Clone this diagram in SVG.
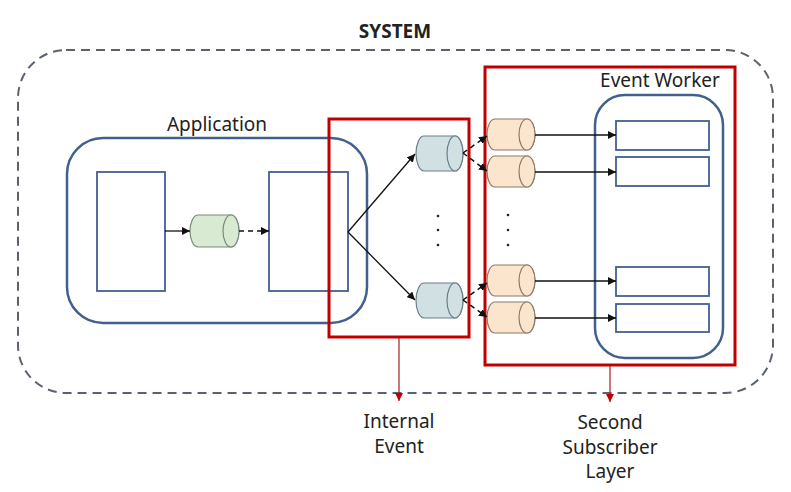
<svg xmlns="http://www.w3.org/2000/svg" width="791" height="492" viewBox="0 0 791 492">
<defs>
<style>
.t{font-family:"Noto Sans","Open Sans","Liberation Sans",sans-serif;font-size:19px;fill:#222;text-anchor:middle}
.blue{fill:none;stroke:#41608f;stroke-width:2.5}
.box{fill:#fff;stroke:#41608f;stroke-width:1.8}
.red{fill:none;stroke:#c00000;stroke-width:3}
.cg{fill:#d9ead3;stroke:#7a8a7a;stroke-width:1.2}
.cb{fill:#d0e0e3;stroke:#6a7f88;stroke-width:1.2}
.co{fill:#fce5cd;stroke:#8a7a6a;stroke-width:1.2}
.a{fill:none;stroke:#111;stroke-width:1.3}
.d{fill:none;stroke:#111;stroke-width:1.5;stroke-dasharray:5 4}
.r{fill:none;stroke:#a02020;stroke-width:1.2}
</style>
<marker id="ah" viewBox="0 0 10 10" refX="10" refY="5" markerWidth="8" markerHeight="8" markerUnits="userSpaceOnUse" orient="auto"><path d="M0,0 L10,5 L0,10 Z" fill="#111"/></marker>
<marker id="rh" viewBox="0 0 10 10" refX="10" refY="5" markerWidth="8" markerHeight="8" markerUnits="userSpaceOnUse" orient="auto"><path d="M0,0 L10,5 L0,10 Z" fill="#c00000"/></marker>
</defs>
<rect width="791" height="492" fill="#fff"/>
<g id="system">
<rect x="18" y="50" width="755" height="343" rx="48" fill="none" stroke="#5a6170" stroke-width="2" stroke-dasharray="9 6"/>
<text x="395" y="38" class="t" style="font-weight:bold;font-size:19px">SYSTEM</text>
</g>
<g id="application">
<rect x="67" y="138" width="300" height="185" rx="36" class="blue"/>
<text x="217" y="131" class="t">Application</text>
<rect x="97" y="172" width="68" height="119" class="box"/>
<rect x="269" y="172" width="79" height="119" class="box"/>
<path class="cg" d="M198,215 L231,215 A8,16 0 0 1 231,247 L198,247 A8,16 0 0 1 198,215 Z"/>
<ellipse class="cg" cx="231" cy="231" rx="8" ry="16"/>
</g>
<g id="internal-event">
<rect x="329" y="119" width="140" height="218" class="red"/>
<path class="cb" d="M424,136 L455,136 A8,17.5 0 0 1 455,171 L424,171 A8,17.5 0 0 1 424,136 Z"/>
<ellipse class="cb" cx="455" cy="153.5" rx="8" ry="17.5"/>
<path class="cb" d="M424,283 L455,283 A8,17.5 0 0 1 455,318 L424,318 A8,17.5 0 0 1 424,283 Z"/>
<ellipse class="cb" cx="455" cy="300.5" rx="8" ry="17.5"/>
<g fill="#222"><circle cx="438" cy="216" r="1.3"/><circle cx="438" cy="230" r="1.3"/><circle cx="438" cy="245" r="1.3"/></g>
</g>
<g id="second-subscriber-layer">
<rect x="485" y="67" width="250" height="298" class="red"/>
<path class="co" d="M495,119 L527,119 A8,15.5 0 0 1 527,150 L495,150 A8,15.5 0 0 1 495,119 Z"/>
<ellipse class="co" cx="527" cy="134.5" rx="8" ry="15.5"/>
<path class="co" d="M495,156 L527,156 A8,15.5 0 0 1 527,187 L495,187 A8,15.5 0 0 1 495,156 Z"/>
<ellipse class="co" cx="527" cy="171.5" rx="8" ry="15.5"/>
<path class="co" d="M495,265 L527,265 A8,15.5 0 0 1 527,296 L495,296 A8,15.5 0 0 1 495,265 Z"/>
<ellipse class="co" cx="527" cy="280.5" rx="8" ry="15.5"/>
<path class="co" d="M495,302 L527,302 A8,15.5 0 0 1 527,333 L495,333 A8,15.5 0 0 1 495,302 Z"/>
<ellipse class="co" cx="527" cy="317.5" rx="8" ry="15.5"/>
<g fill="#222"><circle cx="508" cy="215" r="1.3"/><circle cx="508" cy="230" r="1.3"/><circle cx="508" cy="245" r="1.3"/></g>
</g>
<g id="event-worker">
<rect x="595" y="95" width="128" height="263" rx="30" class="blue"/>
<text x="660" y="87" class="t">Event Worker</text>
<rect x="616" y="121" width="93" height="29" class="box"/>
<rect x="616" y="157" width="93" height="29" class="box"/>
<rect x="616" y="267" width="93" height="29" class="box"/>
<rect x="616" y="304" width="93" height="28" class="box"/>
</g>
<g id="labels">
<text x="399" y="428" class="t">Internal</text>
<text x="399" y="453" class="t">Event</text>
<text x="610" y="429" class="t">Second</text>
<text x="610" y="454" class="t">Subscriber</text>
<text x="610" y="478" class="t">Layer</text>
</g>
<g id="connectors">
<line x1="165" y1="231" x2="190" y2="231" class="a" marker-end="url(#ah)"/>
<line x1="239" y1="231" x2="269" y2="231" class="d" marker-end="url(#ah)"/>
<line x1="348" y1="232" x2="415" y2="154" class="a" marker-end="url(#ah)"/>
<line x1="348" y1="232" x2="415" y2="300" class="a" marker-end="url(#ah)"/>
<line x1="463" y1="153" x2="487" y2="136" class="d" marker-end="url(#ah)"/>
<line x1="463" y1="153" x2="487" y2="171" class="d" marker-end="url(#ah)"/>
<line x1="463" y1="300" x2="487" y2="283" class="d" marker-end="url(#ah)"/>
<line x1="463" y1="300" x2="487" y2="317" class="d" marker-end="url(#ah)"/>
<line x1="535" y1="135" x2="616" y2="135" class="a" marker-end="url(#ah)"/>
<line x1="535" y1="172" x2="616" y2="172" class="a" marker-end="url(#ah)"/>
<line x1="535" y1="281" x2="616" y2="281" class="a" marker-end="url(#ah)"/>
<line x1="535" y1="318" x2="616" y2="318" class="a" marker-end="url(#ah)"/>
<line x1="399" y1="338" x2="399" y2="401" class="r" marker-end="url(#rh)"/>
<line x1="610" y1="366" x2="610" y2="402" class="r" marker-end="url(#rh)"/>
</g>
</svg>
